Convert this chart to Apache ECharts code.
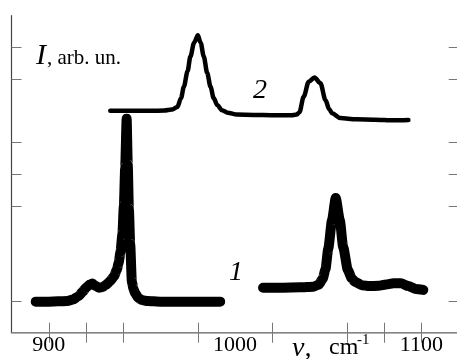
<!DOCTYPE html>
<html>
<head>
<meta charset="utf-8">
<script src="https://cdn.jsdelivr.net/npm/echarts@6/dist/echarts.min.js"></script>
<style>
  html, body { margin: 0; padding: 0; background: #fff; }
  #chart { width: 457px; height: 359px; }
</style>
</head>
<body>
<div id="chart"></div>
<script>
// spectrum 1, left part (wavenumber, intensity)
const curve1Left = [
  [893, 0.98], [900, 0.98], [905, 0.99], [910, 1.0], [913, 1.05], [916, 1.15],
  [918, 1.28], [920, 1.42], [922, 1.52], [923.5, 1.55], [925, 1.48], [927, 1.42],
  [929, 1.44], [931, 1.52], [933, 1.63], [935, 1.78], [936.5, 1.98], [937.5, 2.2],
  [938.5, 2.55], [939.5, 3.1], [940.3, 4.0], [941, 5.2], [941.8, 6.75], [942.4, 5.3],
  [943, 3.9], [943.7, 2.8], [944.6, 1.6], [945.5, 1.38], [946.3, 1.25], [948, 1.1],
  [950, 1.03], [953, 1.0], [960, 0.98], [970, 0.98], [980, 0.98], [992, 0.98]
]
// spectrum 1, right part
const curve1Right = [
  [1015, 1.42], [1025, 1.42], [1035, 1.43], [1042, 1.45], [1045, 1.52], [1047, 1.7],
  [1048.5, 2.0], [1050, 2.65], [1052, 3.55], [1054, 4.25], [1056.2, 3.55], [1058, 2.7],
  [1060.5, 1.98], [1062.5, 1.72], [1064.5, 1.6], [1068, 1.5], [1072, 1.47], [1077, 1.48],
  [1081, 1.52], [1085, 1.56], [1089, 1.56], [1093, 1.47], [1097, 1.38], [1101, 1.35]
]
// spectrum 2
const curve2 = [
  [933, 7.0], [945, 7.0], [955, 7.0], [962, 7.01], [966, 7.04], [969, 7.12], [971, 7.4],
  [972.5, 7.76], [974.5, 8.25], [976, 8.71], [978, 9.15], [980, 9.38], [981.5, 9.15],
  [983.2, 8.71], [985, 8.2], [986.8, 7.76], [988.5, 7.4], [990.4, 7.18], [993, 7.02],
  [996, 6.94], [1001, 6.88], [1010, 6.87], [1020, 6.86], [1030, 6.86], [1033, 6.88],
  [1034.5, 6.95], [1036.8, 7.44], [1039.5, 7.92], [1042.6, 8.05], [1045.8, 7.87],
  [1048.5, 7.34], [1050.5, 7.05], [1052.1, 6.92], [1056.5, 6.77], [1065, 6.73],
  [1075, 6.72], [1085, 6.7], [1093, 6.71]
]

const xTicks = [900, 920, 940, 980, 1020, 1060, 1080, 1100]
const xLabels = [900, 1000, 1100]
const yTicks = [1, 4, 5, 6, 8, 9]

const serif = 'Liberation Serif'
const chart = echarts.init(document.getElementById('chart'))

const tickStyle = { color: '#777', width: 1 }

const label = (text, left, top, size, italic) => ({
  type: 'text', left, top,
  style: {
    text, fill: '#000', fontFamily: serif, fontSize: size,
    fontStyle: italic ? 'italic' : 'normal'
  }
})

chart.setOption({
  animation: false,
  grid: { left: 11.5, right: -1.7, top: 15.7, bottom: 26.3, outerBoundsMode: 'none' },
  xAxis: [
    {
      type: 'value', position: 'bottom', min: 880, max: 1120,
      axisLine: { lineStyle: { color: '#444', width: 1.2 } },
      axisTick: { inside: true, length: 10, customValues: xTicks, lineStyle: tickStyle },
      axisLabel: {
        customValues: xLabels, margin: 2, color: '#000',
        fontFamily: serif, fontSize: 22, formatter: (v) => String(v)
      },
      splitLine: { show: false }
    },
    {
      type: 'value', position: 'top', min: 880, max: 1120,
      axisLine: { lineStyle: { color: '#999', width: 1.5 } },
      axisTick: { inside: true, length: 10, customValues: xTicks, lineStyle: tickStyle },
      axisLabel: { show: false },
      splitLine: { show: false }
    }
  ],
  yAxis: [
    {
      type: 'value', position: 'left', min: 0, max: 10,
      axisLine: { show: true, lineStyle: { color: '#444', width: 1.2 } },
      axisTick: { show: true, inside: true, length: 10, customValues: yTicks, lineStyle: tickStyle },
      axisLabel: { show: false },
      splitLine: { show: false }
    },
    {
      type: 'value', position: 'right', min: 0, max: 10,
      axisLine: { show: false },
      axisTick: { show: true, inside: true, length: 10, customValues: yTicks, lineStyle: tickStyle },
      axisLabel: { show: false },
      splitLine: { show: false }
    }
  ],
  series: [
    {
      type: 'line', data: curve1Left, showSymbol: false, smooth: 0.2, smoothMonotone: 'x',
      lineStyle: { color: '#000', width: 10, cap: 'round', join: 'round' }
    },
    {
      type: 'line', data: curve1Right, showSymbol: false, smooth: 0.2, smoothMonotone: 'x',
      lineStyle: { color: '#000', width: 10, cap: 'round', join: 'round' }
    },
    {
      type: 'line', data: curve2, showSymbol: false, smooth: 0.3, smoothMonotone: 'x',
      lineStyle: { color: '#000', width: 4.5, cap: 'round', join: 'round' }
    }
  ],
  graphic: [
    label('I', 36, 41, 30, true),
    label(', arb. un.', 47, 48, 21, false),
    label('2', 253, 77, 28, true),
    label('1', 229, 259, 28, true),
    label('ν,', 292, 335, 28, true),
    label('cm', 329, 336, 24, false),
    label('-1', 357, 333, 15, false)
  ]
})
</script>
</body>
</html>
